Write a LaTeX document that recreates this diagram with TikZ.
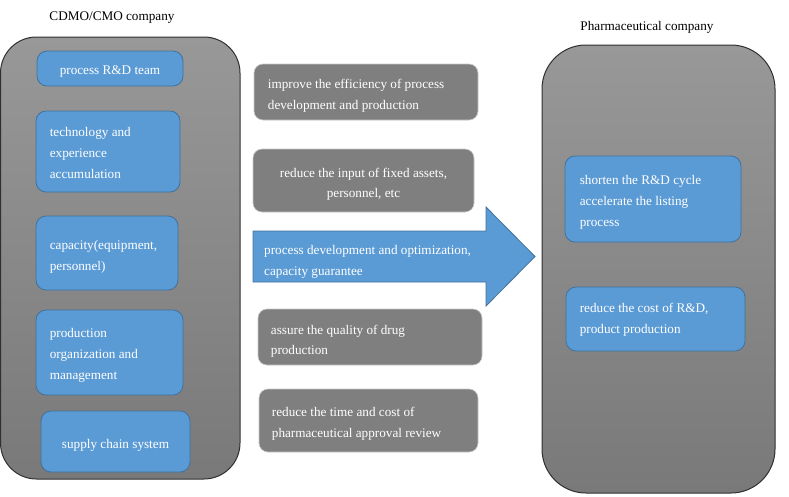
\documentclass[tikz,border=0pt]{standalone}
\usepackage{fontspec}
\setmainfont{Liberation Serif}
\definecolor{bfill}{HTML}{5B9BD5}
\definecolor{bline}{HTML}{41719C}
\definecolor{gfill}{HTML}{7F7F7F}
\definecolor{gline}{HTML}{C8C8C8}
\definecolor{btop}{HTML}{989898}
\definecolor{bbot}{HTML}{797979}
\definecolor{bigline}{HTML}{303030}
\begin{document}
\begin{tikzpicture}[x=1pt,y=-1pt,
  bigbox/.style={draw=bigline, line width=1pt, top color=btop, bottom color=bbot, inner sep=0pt},
  bluebox/.style={draw=bline, line width=0.8pt, fill=bfill, rounded corners=10pt, inner sep=0pt},
  graybox/.style={draw=gline, line width=0.6pt, fill=gfill, rounded corners=9pt, inner sep=0pt},
  txt/.style={text=white, font=\fontsize{13.2}{21}\selectfont, inner sep=0pt, yshift=-3pt},
  gtxt/.style={text=white, font=\fontsize{13.2}{20.5}\selectfont, inner sep=0pt, yshift=-3pt},
  title/.style={text=black, font=\fontsize{13.2}{16}\selectfont, inner sep=0pt}]
\useasboundingbox (0,0) rectangle (789,496);
% titles
\node[title] (t1) at (112,17.5) {CDMO/CMO company};
\node[title] (t2) at (647,27.5) {Pharmaceutical company};
% big boxes
\node[bigbox, rounded corners=36pt, minimum width=239.5pt, minimum height=442pt] (L) at (120.25,258) {};
\node[bigbox, rounded corners=44pt, minimum width=233pt, minimum height=448pt] (R) at (658.5,269) {};
% left blue boxes
\node[bluebox, minimum width=146pt, minimum height=35pt] (b1) at (110,68.5) {};
\node[txt] (b1t) at (b1) {process R\&D team};
\node[bluebox, minimum width=144pt, minimum height=81pt] (b2) at (108,151.5) {};
\node[txt, anchor=west, align=left] (b2t) at ([xshift=14pt,yshift=2pt]b2.west) {technology and\\experience\\accumulation};
\node[bluebox, minimum width=142pt, minimum height=74pt] (b3) at (107,253) {};
\node[txt, anchor=west, align=left] (b3t) at ([xshift=14pt,yshift=-1pt]b3.west) {capacity(equipment,\\personnel)};
\node[bluebox, minimum width=147pt, minimum height=85pt] (b4) at (109.5,352.5) {};
\node[txt, anchor=west, align=left] (b4t) at ([xshift=14pt]b4.west) {production\\organization and\\management};
\node[bluebox, minimum width=149pt, minimum height=61pt] (b5) at (115.5,441.5) {};
\node[txt] (b5t) at ([yshift=-1pt]b5) {supply chain system};
% right blue boxes
\node[bluebox, minimum width=176pt, minimum height=86pt] (r1) at (653,199) {};
\node[txt, anchor=west, align=left] (r1t) at ([xshift=15pt]r1.west) {shorten the R\&D cycle\\accelerate the listing\\process};
\node[bluebox, minimum width=179pt, minimum height=64pt] (r2) at (655.5,319) {};
\node[txt, anchor=west, align=left] (r2t) at ([xshift=14pt,yshift=2pt]r2.west) {reduce the cost of R\&D,\\product production};
% gray boxes
\node[graybox, minimum width=224pt, minimum height=56pt] (g1) at (366,92) {};
\node[gtxt, anchor=west, align=left] (g1t) at ([xshift=14pt,yshift=-1pt]g1.west) {improve the efficiency of process\\development and production};
\node[graybox, minimum width=221pt, minimum height=63pt] (g2) at (363.5,180.5) {};
\node[gtxt, align=center] (g2t) at ([yshift=-1pt]g2) {reduce the input of fixed assets,\\personnel, etc};
\node[graybox, minimum width=224pt, minimum height=56pt] (g3) at (370,337) {};
\node[gtxt, anchor=west, align=left] (g3t) at ([xshift=13pt,yshift=-1pt]g3.west) {assure the quality of drug\\production};
\node[graybox, minimum width=219pt, minimum height=63pt] (g4) at (368.5,420.5) {};
\node[gtxt, anchor=west, align=left] (g4t) at ([xshift=13pt]g4.west) {reduce the time and cost of\\pharmaceutical approval review};
% big arrow
\draw[draw=bline, line width=0.8pt, fill=bfill] (253,231) -- (486,231) -- (486,207) -- (535,256.5) -- (486,306) -- (486,282) -- (253,282) -- cycle;
\node[gtxt, anchor=west, align=left] (at) at (264,259) {process development and optimization,\\capacity guarantee};
\end{tikzpicture}
\end{document}
